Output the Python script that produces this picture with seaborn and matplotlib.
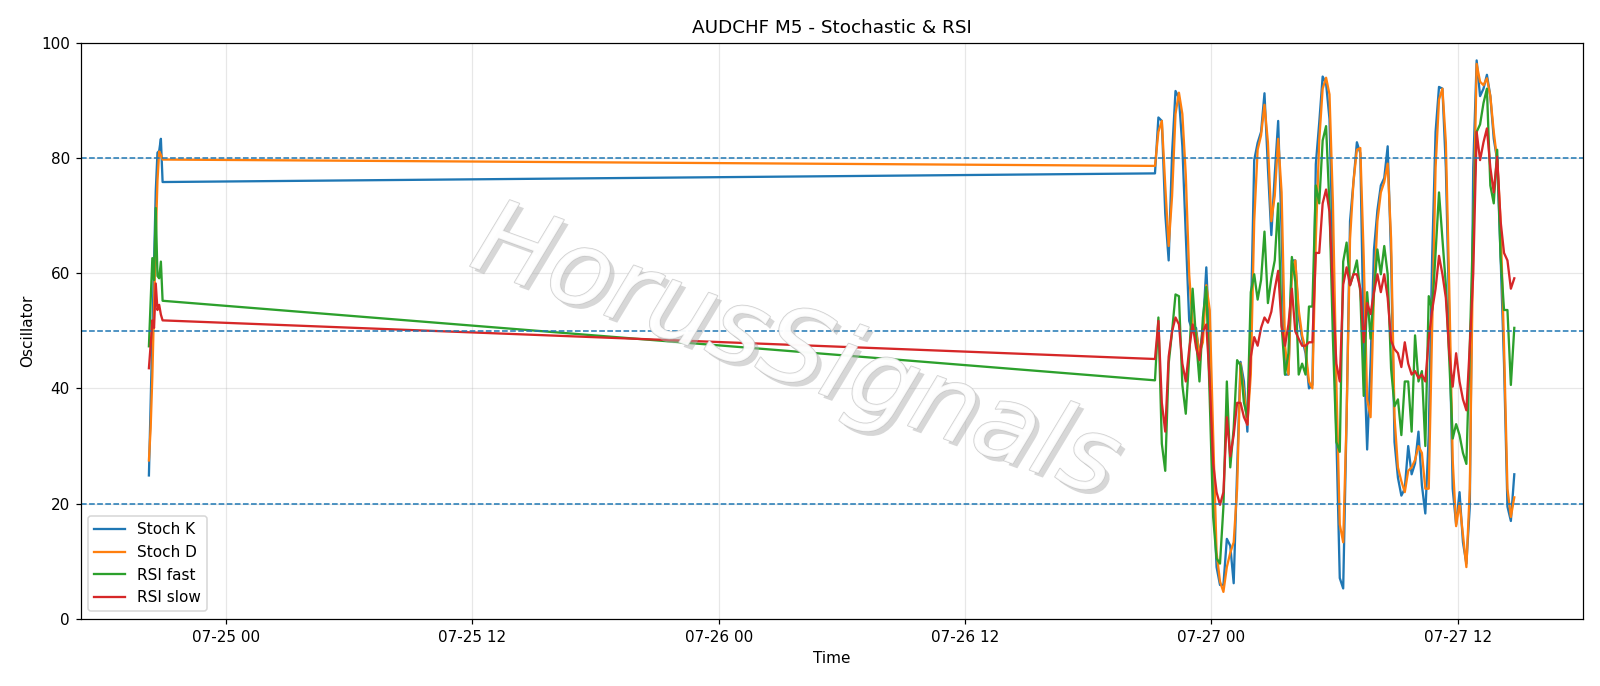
import numpy as np
import pandas as pd
import matplotlib
matplotlib.use("Agg")
import matplotlib.pyplot as plt
import matplotlib.dates as mdates
import matplotlib.patheffects as pe
import seaborn as sns

# ---- data ----
# Friday close block (M5) and Sunday-open block (sampled every 10 min)
block1_start = "2020-07-24 20:15"
block1_freq = "5min"
block2_start = "2020-07-26 21:15"
block2_freq = "10min"

stoch_k_1 = [24.9, 37.2, 49.5, 61.9, 74.2, 80.9, 81.2, 83.3, 75.8]
stoch_d_1 = [27.5, 33.0, 42.0, 54.0, 66.0, 76.0, 81.1, 80.5, 79.7]
rsi_fast_1 = [47.3, 55.0, 62.6, 58.8, 71.3, 59.5, 59.1, 62.0, 55.2]
rsi_slow_1 = [43.5, 47.5, 51.8, 50.5, 58.2, 53.6, 54.5, 52.8, 51.8]

stoch_k_2 = [77.3, 87.0, 86.4, 70.3, 62.2, 80.8, 91.6, 90.4, 82.0, 66.6,
             51.7, 49.9, 50.5, 45.5, 50.5, 61.0, 47.4, 22.6, 9.0, 5.9,
             5.9, 13.9, 12.7, 6.2, 25.7, 44.6, 41.2, 32.5, 51.1, 79.6,
             82.6, 84.5, 91.2, 78.3, 66.6, 77.1, 86.4, 67.2, 42.4, 42.4,
             62.2, 62.2, 52.3, 48.6, 46.1, 40.0, 40.6, 78.9, 86.1, 94.1,
             92.9, 86.7, 62.8, 31.9, 7.1, 5.3, 35.0, 69.0, 75.8, 82.7,
             80.8, 47.4, 29.4, 44.3, 64.1, 70.9, 75.2, 76.5, 82.0, 62.8,
             30.7, 24.5, 21.4, 22.6, 30.0, 25.1, 27.0, 32.5, 23.2, 18.3,
             31.9, 62.8, 84.5, 92.3, 92.0, 78.3, 52.3, 22.6, 16.4, 22.0,
             13.3, 9.6, 19.5, 78.3, 96.9, 90.7, 92.0, 94.4, 90.7, 83.3,
             79.6, 62.8, 44.3, 19.5, 17.0, 25.1]
stoch_d_2 = [78.6, 84.5, 86.4, 75.2, 64.7, 73.4, 87.6, 91.3, 87.6, 77.1,
             59.8, 51.1, 49.9, 46.1, 48.0, 57.9, 53.6, 31.9, 11.5, 6.5,
             4.7, 9.0, 11.5, 13.3, 22.6, 44.3, 39.3, 33.7, 42.4, 69.0,
             81.4, 83.9, 89.2, 82.7, 69.0, 73.4, 83.3, 74.0, 47.4, 42.4,
             59.8, 62.2, 53.6, 49.2, 46.8, 41.2, 40.0, 65.9, 83.0, 92.0,
             93.9, 91.0, 72.1, 41.2, 16.4, 13.3, 35.0, 65.9, 75.8, 81.4,
             81.7, 62.8, 38.1, 35.0, 56.7, 69.0, 74.0, 75.8, 79.0, 65.9,
             35.0, 26.3, 23.9, 22.0, 25.7, 26.3, 27.6, 30.0, 28.8, 22.6,
             22.6, 50.5, 78.3, 90.1, 92.0, 82.7, 57.3, 27.6, 16.1, 20.1,
             14.6, 9.0, 22.6, 65.9, 96.3, 93.2, 92.6, 93.8, 90.7, 84.5,
             79.6, 69.0, 47.4, 22.6, 17.7, 21.1]
rsi_fast_2 = [41.4, 52.3, 30.4, 25.7, 44.3, 49.9, 56.3, 56.0, 40.6, 35.6,
              45.5, 57.3, 48.6, 41.2, 52.3, 57.6, 38.1, 17.7, 10.5, 9.6,
              19.5, 41.2, 26.3, 33.1, 44.9, 44.0, 37.5, 35.0, 56.7, 59.8,
              55.4, 58.8, 67.2, 54.8, 59.1, 62.2, 72.1, 51.1, 42.4, 46.1,
              62.8, 58.5, 42.4, 44.3, 42.4, 54.2, 54.2, 75.2, 72.1, 83.0,
              85.5, 71.5, 48.6, 30.7, 29.0, 62.0, 65.3, 57.9, 59.8, 62.2,
              56.7, 38.7, 56.7, 48.6, 56.7, 64.1, 59.8, 64.7, 59.8, 43.4,
              36.9, 38.1, 31.9, 41.2, 41.2, 32.5, 49.2, 41.2, 43.0, 30.0,
              56.0, 53.6, 63.5, 74.0, 65.9, 57.9, 44.9, 31.3, 33.8, 31.9,
              28.8, 26.9, 47.4, 69.0, 84.5, 85.8, 89.5, 92.0, 75.2, 72.1,
              81.4, 62.8, 53.6, 53.6, 40.6, 50.5]
rsi_slow_2 = [45.1, 51.7, 37.5, 32.5, 45.5, 49.9, 52.3, 51.1, 44.3, 41.2,
              46.8, 51.1, 47.1, 44.9, 49.9, 51.1, 41.2, 27.0, 22.0, 19.8,
              22.0, 35.0, 28.2, 31.9, 37.5, 37.5, 35.0, 33.7, 45.5, 48.9,
              47.4, 50.5, 52.3, 51.4, 53.3, 57.2, 60.4, 50.8, 47.4, 51.1,
              57.3, 49.9, 48.6, 47.4, 47.4, 48.0, 48.0, 63.5, 63.5, 72.1,
              74.5, 70.6, 56.7, 44.3, 41.2, 58.0, 61.0, 57.9, 59.8, 59.8,
              57.3, 48.0, 54.8, 52.9, 56.7, 59.8, 56.7, 59.8, 55.7, 48.3,
              46.8, 46.1, 43.7, 48.0, 44.3, 42.4, 43.0, 41.8, 42.4, 41.2,
              48.6, 53.6, 57.3, 63.0, 59.8, 55.7, 46.1, 40.3, 46.1, 41.2,
              38.1, 36.2, 47.4, 59.8, 84.5, 79.6, 82.7, 85.1, 78.3, 74.0,
              80.2, 69.0, 63.5, 62.2, 57.3, 59.1]

series_names = ["Stoch K", "Stoch D", "RSI fast", "RSI slow"]
levels = [80, 50, 20]

# ---- build frame ----
t1 = pd.date_range(block1_start, periods=len(stoch_k_1), freq=block1_freq)
t2 = pd.date_range(block2_start, periods=len(stoch_k_2), freq=block2_freq)
time = t1.append(t2)
df = pd.DataFrame({
    "Time": time,
    "Stoch K": stoch_k_1 + stoch_k_2,
    "Stoch D": stoch_d_1 + stoch_d_2,
    "RSI fast": rsi_fast_1 + rsi_fast_2,
    "RSI slow": rsi_slow_1 + rsi_slow_2,
})

DPI = 110
fig, ax = plt.subplots(figsize=(1600 / DPI, 686 / DPI), dpi=DPI)
fig.subplots_adjust(left=0.0504, right=0.9891, bottom=0.0977, top=0.938)

colors = sns.color_palette("tab10", 4)
for name, c in zip(series_names, colors):
    sns.lineplot(data=df, x="Time", y=name, ax=ax, color=c, label=name,
                 linewidth=1.5)

for lv in levels:
    ax.axhline(lv, color="#1f77b4", linestyle="--", linewidth=1.0)

ax.set_ylim(0, 100)
ax.set_title("AUDCHF M5 - Stochastic & RSI")
ax.set_xlabel("Time")
ax.set_ylabel("Oscillator")
ax.grid(True, alpha=0.3)
ax.xaxis.set_major_locator(mdates.HourLocator(byhour=[0, 12]))
ax.xaxis.set_major_formatter(mdates.DateFormatter("%m-%d %H"))
ax.legend(loc="lower left")

# watermark
ax.text(0.476, 0.46, "HorusSignals", transform=ax.transAxes,
        fontsize=68, style="italic", color="white", alpha=0.8,
        rotation=-20, ha="center", va="center", zorder=10,
        path_effects=[pe.SimplePatchShadow(offset=(3, -3), shadow_rgbFace="#b0b0b0", alpha=0.5),
                      pe.Stroke(linewidth=1.0, foreground="#c4c4c4"),
                      pe.Normal()])

fig.savefig("out.png", dpi=DPI)
